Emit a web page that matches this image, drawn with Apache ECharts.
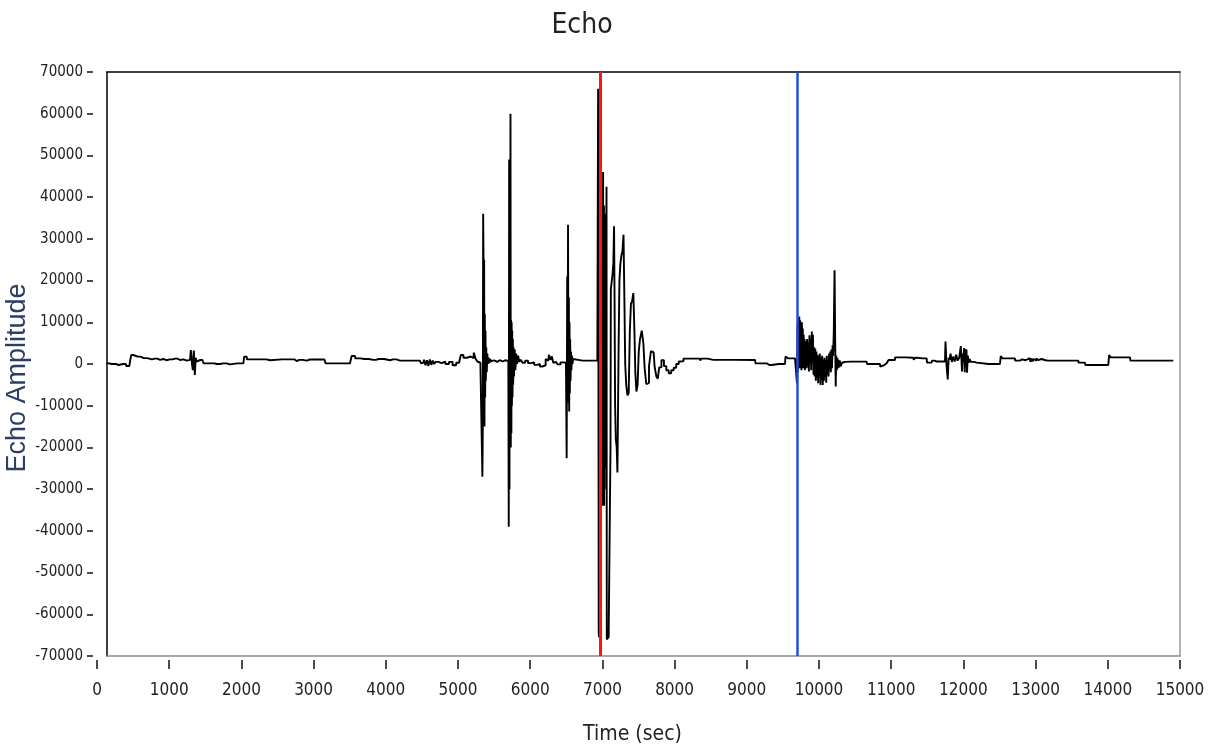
<!DOCTYPE html>
<html>
<head>
<meta charset="utf-8">
<script src="https://cdn.jsdelivr.net/npm/echarts@6/dist/echarts.min.js"></script>
<style>html,body{margin:0;padding:0;background:#fff}#c{width:1215px;height:751px}</style>
</head>
<body>
<div id="c"></div>
<script>
// ---- axis settings ----
const xMin = 0, xMax = 15000, xStep = 1000;
const yMin = -70000, yMax = 70000, yStep = 10000;
const titleText = 'Echo';
const xName = 'Time (sec)';
const yName = 'Echo Amplitude';
// cursor positions (sec)
const cursorRed = 6968;
const cursorBlue = 9705;

// ---- signal, [time, amplitude] per segment ----
const quietStart = [[134,160],[203,0],[260,0],[272,-240],[300,-240],[319,0],[400,0],[411,-480],[448,-480],[470,800],[480,2160],[526,1760],[600,1760],[650,1400],[711,1360],[760,1100],[800,1300],[873,1000],[920,1200],[960,900],[1011,1120],[1080,1300],[1150,960],[1200,1100],[1242,800],[1288,1000],[1311,3360],[1320,0],[1334,-1440],[1348,3200],[1362,-2640],[1372,1500],[1380,600],[1403,960],[1460,960],[1496,160],[1600,160],[1657,0],[1750,160],[1842,-100],[1860,160],[2027,160],[2050,1760],[2100,1120],[2300,1120],[2396,900],[2420,1120],[2700,1120],[2765,700],[2800,1000],[2904,800],[2950,1080],[3150,1080],[3181,160],[3504,160],[3550,1920],[3600,1360],[3700,1200],[3827,1000],[3900,1200],[4058,900],[4100,1100]];
const preBurst = [[4197,800],[4474,800],[4497,160],[4520,300],[4540,1000],[4560,-300],[4580,900],[4600,-500],[4620,1100],[4640,-200],[4660,800],[4680,0],[4704,500],[4750,200],[4800,600],[4850,0],[4900,500],[4950,-300],[5000,300],[5028,100],[5051,2160],[5100,1500],[5150,1800],[5200,1400],[5235,2720],[5255,1200],[5281,600],[5310,300],[5327,700]];
const burst1 = [[5335,500],[5341,-27000],[5346,-15000],[5351,36000],[5356,25000],[5360,-12000],[5364,25000],[5369,-15000],[5374,12000],[5378,-8000],[5383,8000],[5388,-4000],[5395,4000],[5402,-2000],[5410,2500],[5420,0],[5430,1500],[5440,200],[5455,1200],[5466,600]];
const gap12 = [[5500,900],[5540,500],[5580,900],[5620,600],[5660,900],[5697,700]];
const burst2 = [[5700,600],[5706,-39000],[5711,49000],[5715,-30000],[5720,49000],[5725,-10000],[5729,60000],[5733,-20000],[5738,10500],[5741,-16600],[5745,10000],[5749,-10000],[5753,8000],[5757,-8000],[5762,6000],[5766,-5000],[5772,4000],[5780,-3000],[5790,3500],[5800,-1500],[5812,2500],[5825,0],[5840,2000],[5859,500]];
const gap23 = [[5880,1000],[5910,300],[5950,800],[5990,200],[6030,400],[6080,-200],[6120,0],[6150,-600],[6182,-800],[6200,-300],[6228,1200],[6250,800],[6270,2200],[6290,1000],[6310,1800],[6330,300],[6360,500],[6400,-100],[6440,400],[6470,0],[6495,300]];
const burst3 = [[6500,500],[6510,-22600],[6515,21000],[6520,-9400],[6528,33400],[6533,-9000],[6538,16000],[6542,-11400],[6547,10000],[6551,-7000],[6556,6000],[6562,-4000],[6568,3000],[6574,-1500],[6582,2000],[6590,0],[6600,1200],[6620,800],[6828,800],[6835,1200],[6845,800],[6930,800]];
const mainEcho = [[6938,800],[6943,66000],[6947,0],[6951,-64000],[6955,-65500],[6959,-60000],[6963,-65500],[6966,20000],[6969,38000],[6972,-34000],[6975,38000],[6978,-34000],[6981,38000],[6984,-34000],[6987,38000],[6990,-34000],[6993,38000],[6996,-34000],[6999,37000],[7002,-33000],[7005,38000],[7008,-34000],[7011,46000],[7014,-30000],[7017,38000],[7020,-34000],[7023,38000],[7026,-34000],[7029,36000],[7032,-30000],[7035,36000],[7038,-25000],[7041,30000],[7044,-20000],[7047,30000],[7051,-10000],[7055,30000],[7059,42500],[7063,-66000],[7110,-65500],[7114,-20000],[7120,18000],[7130,18000],[7145,21000],[7158,24000],[7165,33000],[7172,15000],[7180,-10000],[7192,-18000],[7204,-20000],[7212,-26000],[7220,-12000],[7230,5000],[7242,20000],[7256,24000],[7270,26000],[7285,27000],[7300,31000],[7310,15000],[7322,0],[7338,-5000],[7356,-7500],[7372,-7000],[7388,8000],[7403,14500],[7420,15000],[7437,17000],[7450,8000],[7462,-2000],[7480,-6600],[7495,-5000],[7512,3000],[7530,6000],[7560,8000],[7575,5000],[7595,-1000],[7620,-4800],[7636,-4500],[7655,-500],[7690,3100],[7710,2800],[7735,-500],[7760,-3000],[7774,-3500],[7800,-800],[7835,900],[7870,-500],[7900,-1500],[7936,-2200],[7970,-1500],[8005,-900],[8040,0],[8075,600],[8098,700]];
const postMain = [[8150,1300],[8190,900],[8200,1300],[8352,1300],[8360,800],[8375,1300],[8537,1000],[9114,960],[9128,160],[9277,160],[9285,-240],[9344,-240],[9350,0],[9529,0],[9543,1760],[9575,1360],[9668,1360],[9690,1000]];
const secondEcho = [[9700,-4600],[9706,9400],[9712,-2000],[9718,11000],[9724,0],[9730,11400],[9736,-1000],[9742,10500],[9748,-500],[9754,9500],[9760,-1500],[9766,10000],[9772,0],[9778,8500],[9784,-1000],[9790,7000],[9796,500],[9802,6000],[9808,-1500],[9814,5500],[9820,0],[9826,5400],[9832,-1000],[9840,6000],[9848,-500],[9856,5000],[9864,-1800],[9872,6900],[9880,0],[9888,6000],[9896,-1500],[9904,7800],[9912,500],[9920,7000],[9928,-2600],[9936,4000],[9944,-3000],[9952,3700],[9960,-4000],[9968,3000],[9976,-3500],[9984,2200],[9992,-4600],[10000,2000],[10008,-3000],[10016,2500],[10024,-5000],[10032,1500],[10040,-3800],[10048,2000],[10056,-5000],[10064,1000],[10072,-4000],[10080,1500],[10088,-3000],[10096,1000],[10104,-4500],[10112,2000],[10120,-2500],[10128,1000],[10136,-3000],[10144,2500],[10152,-1500],[10160,3000],[10168,-2000],[10176,3500],[10184,-1000],[10192,4500],[10200,2000],[10210,8000],[10221,22500],[10228,5000],[10235,-5400],[10242,2000],[10250,-1500],[10258,1500],[10266,-1000],[10275,1000],[10285,-800],[10295,800],[10310,-500],[10330,300],[10360,500]];
const tail = [[10383,560],[10498,560],[10505,960],[10530,560],[10660,560],[10670,0],[10845,0],[10850,-640],[10900,-300],[10937,160],[10990,960],[11030,960],[11076,1600],[11306,1500],[11320,1000],[11340,1500],[11376,1360],[11491,1360],[11500,320],[11560,320],[11570,800],[11629,600],[11745,600],[11759,5400],[11775,-500],[11791,-3700],[11800,1500],[11814,1000],[11830,2500],[11850,500],[11870,1800],[11890,600],[11910,2200],[11930,800],[11953,1500],[11976,4300],[11985,-1800],[11995,2500],[12005,500],[12015,3800],[12022,-2000],[12030,3500],[12040,0],[12045,3500],[12055,-2100],[12068,2000],[12080,300],[12091,1200],[12114,500],[12183,320],[12190,0],[12506,0],[12529,1920],[12552,1360],[12714,1360],[12720,800],[12783,800],[12800,1100],[12830,900],[12876,1100],[12900,700],[12920,1400],[12935,500],[12950,1300],[12965,600],[12980,1200],[13000,800],[13020,1300],[13040,900],[13060,1200],[13100,900],[13176,800],[13591,800],[13600,320],[13684,320],[13690,-240],[14007,-240],[14030,2160],[14053,1600],[14307,1600],[14320,800],[14907,800]];

const echoSignal = [].concat(quietStart, preBurst, burst1, gap12, burst2, gap23, burst3, mainEcho, postMain, secondEcho, tail);

const FONT = "'Liberation Sans Narrow','DejaVu Sans Condensed',Roboto,sans-serif";
const plain = v => String(v);

const chart = echarts.init(document.getElementById('c'), null, {renderer: 'canvas'});
const frameAxis = (pos, color) => ({
  gridIndex: 1, type: 'value', position: pos, min: 0, max: 1,
  axisLine: {show: true, onZero: false, lineStyle: {color: color, width: 1.5}},
  axisTick: {show: false}, axisLabel: {show: false}, splitLine: {show: false}
});
chart.setOption({
  animation: false,
  backgroundColor: '#fff',
  title: {
    text: titleText, left: 577, top: 7, textAlign: 'center',
    textStyle: {fontSize: 28, fontWeight: 'normal', color: '#222', fontFamily: FONT}
  },
  grid: [
    {left: 97, right: 35, top: 72, bottom: 95, containLabel: false, outerBoundsMode: 'none'},
    {left: 107, right: 35, top: 72, bottom: 95, containLabel: false, outerBoundsMode: 'none'}
  ],
  xAxis: [
    {
      gridIndex: 0, type: 'value', min: xMin, max: xMax, interval: xStep, offset: 4,
      axisLine: {show: false, onZero: false},
      axisTick: {show: true, length: 9, lineStyle: {color: '#111', width: 1.5}},
      axisLabel: {margin: 22, fontSize: 17, color: '#222', fontFamily: FONT, formatter: plain},
      splitLine: {show: false},
      name: xName, nameLocation: 'middle', nameGap: 64, nameMoveOverlap: false,
      nameTextStyle: {fontSize: 21, color: '#222', fontFamily: FONT, padding: [0, 12, 0, 0]}
    },
    frameAxis('bottom', '#8a8a8a'),
    frameAxis('top', '#000')
  ],
  yAxis: [
    {
      gridIndex: 0, type: 'value', min: yMin, max: yMax, interval: yStep, offset: 4,
      axisLine: {show: false, onZero: false},
      axisTick: {show: true, length: 6, lineStyle: {color: '#111', width: 1.5}},
      axisLabel: {margin: 10, fontSize: 15, color: '#222', fontFamily: FONT, formatter: plain},
      splitLine: {show: false},
      name: yName, nameLocation: 'middle', nameGap: 62, nameRotate: 90, nameMoveOverlap: false,
      nameTextStyle: {fontSize: 27, color: '#2c3e63', fontFamily: "'Liberation Sans',Arial,sans-serif", padding: [0, 28, 0, 0]}
    },
    frameAxis('left', '#000'),
    frameAxis('right', '#9a9a9a')
  ],
  series: [{
    type: 'line', xAxisIndex: 0, yAxisIndex: 0,
    data: echoSignal, showSymbol: false, symbol: 'none', sampling: null,
    step: 'middle',
    lineStyle: {color: '#000', width: 1.9},
    silent: true,
    markLine: {
      silent: true, symbol: ['none', 'none'], label: {show: false}, animation: false,
      data: [
        {xAxis: cursorRed, lineStyle: {color: '#ff1414', width: 3, type: 'solid'}},
        {xAxis: cursorBlue, lineStyle: {color: '#1f50dc', width: 2.5, type: 'solid'}}
      ]
    }
  }]
});
</script>
</body>
</html>
